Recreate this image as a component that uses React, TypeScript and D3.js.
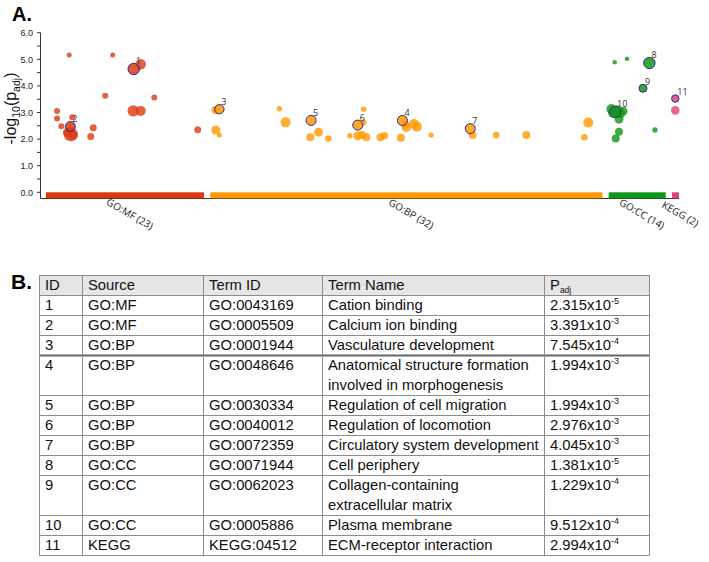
import React from "react";
import * as d3 from "d3";

// ---------- data ----------
const sources = ["GO:MF", "GO:BP", "GO:CC", "KEGG"];
const sourceCounts = [23, 32, 14, 2];
const sourceColors = ["#dc3912", "#ff9900", "#109618", "#dd4477"];
const sourceSpan = [158, 392, 57, 7]; // relative term-space size of each source

// [position within source (0-1), -log10(p_adj), term size]
const mfPoints: [number, number, number][] = [
  [0.147, 5.16, 625], [0.422, 5.16, 625], [0.599, 4.81, 2800],
  [0.375, 3.63, 900], [0.685, 3.56, 900], [0.552, 3.06, 3249],
  [0.599, 3.06, 2500], [0.07, 3.06, 900], [0.07, 2.77, 900],
  [0.166, 2.82, 900], [0.097, 2.48, 900], [0.139, 2.25, 2500],
  [0.17, 2.15, 2500], [0.156, 2.18, 4900], [0.299, 2.43, 1225],
  [0.283, 2.1, 1225], [0.96, 2.35, 1225],
];
const bpPoints: [number, number, number][] = [
  [0.013, 3.09, 1600], [0.014, 2.34, 2025], [0.023, 2.15, 625],
  [0.176, 3.14, 730], [0.192, 2.63, 2500], [0.255, 2.07, 1600],
  [0.276, 2.26, 2025], [0.301, 2.02, 1090], [0.391, 3.12, 730],
  [0.391, 2.62, 900], [0.356, 2.13, 730], [0.376, 2.12, 2025],
  [0.398, 2.07, 1600], [0.434, 2.07, 1600], [0.444, 2.13, 1370],
  [0.486, 2.05, 1600], [0.519, 2.57, 2500], [0.527, 2.47, 2500],
  [0.5, 2.43, 2025], [0.497, 2.55, 1600], [0.387, 2.15, 1600],
  [0.563, 2.15, 730], [0.669, 2.15, 1600], [0.729, 2.15, 1090],
  [0.806, 2.15, 1600], [0.964, 2.62, 2500], [0.954, 2.07, 1090],
];
const ccPoints: [number, number, number][] = [
  [0.105, 4.89, 530], [0.321, 5.02, 530], [0.047, 3.13, 2500],
  [0.251, 3.05, 2025], [0.158, 3.08, 2500], [0.211, 2.95, 2025],
  [0.07, 2.98, 2025], [0.181, 2.75, 2025], [0.181, 2.28, 1600],
  [0.123, 2.02, 1600], [0.812, 2.34, 730],
];
const keggPoints: [number, number, number][] = [[0.47, 3.08, 1850]];

// highlighted terms: [source index, position within source, term size]
const highlightPos: [number, number, number][] = [
  [0, 0.555, 3249], [0, 0.154, 2500], [1, 0.023, 2200], [1, 0.49, 2500],
  [1, 0.257, 2500], [1, 0.376, 2500], [1, 0.663, 2500], [2, 0.714, 3249],
  [2, 0.602, 1600], [2, 0.111, 3249], [3, 0.47, 1370],
];

// table
const tableIds = ["1", "2", "3", "4", "5", "6", "7", "8", "9", "10", "11"];
const tableSources = ["GO:MF", "GO:MF", "GO:BP", "GO:BP", "GO:BP", "GO:BP", "GO:BP", "GO:CC", "GO:CC", "GO:CC", "KEGG"];
const tableTermIds = ["GO:0043169", "GO:0005509", "GO:0001944", "GO:0048646", "GO:0030334", "GO:0040012", "GO:0072359", "GO:0071944", "GO:0062023", "GO:0005886", "KEGG:04512"];
const tableTermNames = [
  ["Cation binding"], ["Calcium ion binding"], ["Vasculature development"],
  ["Anatomical structure formation", "involved in morphogenesis"],
  ["Regulation of cell migration"], ["Regulation of locomotion"],
  ["Circulatory system development"], ["Cell periphery"],
  ["Collagen-containing", "extracellular matrix"], ["Plasma membrane"],
  ["ECM-receptor interaction"],
];
const padjMantissa = [2.315, 3.391, 7.545, 1.994, 1.994, 2.976, 4.045, 1.381, 1.229, 9.512, 2.994];
const padjExponent = [-5, -3, -4, -3, -3, -3, -3, -5, -4, -4, -4];
const yTicks = [0, 1, 2, 3, 4, 5, 6];

// ---------- layout ----------
const W = 709, H = 562;
const plotLeft = 46, plotRight = 679;
const yBase = 192.3, yTop = 32.7;
const axisX = 40.5;

export default function App() {
  const gap = 6.3;
  const offsets: number[] = [];
  let acc = 0;
  sourceSpan.forEach((s, i) => { offsets.push(acc); acc += s + (i < sourceSpan.length - 1 ? gap : 0); });
  const x = d3.scaleLinear().domain([0, acc]).range([plotLeft, plotRight]);
  const y = d3.scaleLinear().domain([0, 6]).range([yBase, yTop]);
  const r = d3.scaleSqrt().domain([0, 5000]).range([0, 7.07]);
  const px = (si: number, f: number) => x(offsets[si] + f * sourceSpan[si]);

  const allPts = [mfPoints, bpPoints, ccPoints, keggPoints].flatMap((arr, si) =>
    arr.map(([f, v, s]) => ({ si, cx: px(si, f), cy: y(v), rr: r(s) })));
  const hl = highlightPos.map(([si, f, s], i) => {
    const v = -Math.log10(padjMantissa[i] * Math.pow(10, padjExponent[i]));
    return { si, id: tableIds[i], cx: px(si, f), cy: y(v), rr: r(s) };
  });

  const minorTicks = d3.range(0, 6.01, 0.5);

  // table layout
  const colX = [39, 82, 203, 322, 544, 649];
  const tTop = 275, rowH = 20;
  const rowTops: number[] = [];
  let rt = tTop + rowH;
  tableIds.forEach((_, i) => { rowTops.push(rt); rt += rowH * tableTermNames[i].length; });
  const tBottom = rt;
  const tf = "'Liberation Sans', Arial, sans-serif";
  const fs = 14.8;
  const headers = ["ID", "Source", "Term ID", "Term Name"];

  return (
    <div style={{ position: "absolute", left: 0, top: 0, width: W, height: H, background: "#fff" }}>
      <svg width={W} height={H} style={{ display: "block" }}>
        <text x={12} y={21} fontFamily={tf} fontWeight="bold" fontSize={20} fill="#000">A.</text>
        {/* y axis */}
        <line x1={axisX} x2={axisX} y1={yTop} y2={198.5} stroke="#333" strokeWidth={1} />
        {minorTicks.map((t) => (
          <line key={t} x1={axisX - 3.5} x2={axisX} y1={y(t)} y2={y(t)} stroke="#333" strokeWidth={1} />
        ))}
        {yTicks.map((t) => (
          <text key={t} x={33} y={y(t) + 3.2} textAnchor="end" fontFamily={tf} fontSize={9} fill="#222">
            {d3.format(".1f")(t)}
          </text>
        ))}
        <text transform={`translate(16,${(yTop + yBase) / 2 - 4}) rotate(-90)`} textAnchor="middle"
          fontFamily={tf} fontSize={16} fill="#111">
          -log<tspan fontSize={10.5} dy={4}>10</tspan><tspan dy={-4}>(p</tspan>
          <tspan fontSize={10.5} dy={4}>adj</tspan><tspan dy={-4}>)</tspan>
        </text>
        {/* baseline + source bars */}
        <line x1={axisX} x2={plotRight} y1={198.5} y2={198.5} stroke="#333" strokeWidth={1} />
        {sources.map((s, i) => (
          <rect key={s} x={x(offsets[i])} width={x(offsets[i] + sourceSpan[i]) - x(offsets[i])}
            y={yBase} height={6} fill={sourceColors[i]} />
        ))}
        {sources.map((s, i) => {
          const cx = x(offsets[i] + sourceSpan[i] / 2);
          return (
            <text key={s} transform={`translate(${cx + 3},${217}) rotate(30)`} textAnchor="middle"
              fontFamily="'Open Sans', sans-serif" fontSize={10} fill="#222">
              {`${s} (${sourceCounts[i]})`}
            </text>
          );
        })}
        {/* points */}
        {allPts.map((p, i) => (
          <circle key={i} cx={p.cx} cy={p.cy} r={p.rr} fill={sourceColors[p.si]} fillOpacity={0.8} />
        ))}
        {hl.map((p) => (
          <circle key={p.id} cx={p.cx} cy={p.cy} r={p.rr} fill={sourceColors[p.si]} fillOpacity={0.85}
            stroke="#2a2a9a" strokeWidth={1} />
        ))}
        {hl.map((p) => (
          <text key={`l${p.id}`} x={p.cx + 2} y={p.cy - p.rr + 0.5} fontFamily="'Open Sans', sans-serif"
            fontSize={9} fill="#333">
            {p.id}
          </text>
        ))}

        {/* table */}
        <text x={11} y={289} fontFamily={tf} fontWeight="bold" fontSize={21} fill="#000">B.</text>
        <rect x={colX[0]} y={tTop} width={colX[5] - colX[0]} height={rowH} fill="#e6e6e6" />
        {headers.map((h, c) => (
          <text key={h} x={colX[c] + 6} y={tTop + 15} fontFamily={tf} fontSize={fs} fill="#111">{h}</text>
        ))}
        <text x={colX[4] + 6} y={tTop + 15} fontFamily={tf} fontSize={fs} fill="#111">
          P<tspan fontSize={8.5} dy={3}>adj</tspan>
        </text>
        {tableIds.map((id, i) => {
          const top = rowTops[i];
          const bl = top + 15;
          return (
            <g key={id} fontFamily={tf} fontSize={fs} fill="#111">
              <text x={colX[0] + 6} y={bl}>{id}</text>
              <text x={colX[1] + 6} y={bl}>{tableSources[i]}</text>
              <text x={colX[2] + 6} y={bl}>{tableTermIds[i]}</text>
              {tableTermNames[i].map((ln, k) => (
                <text key={k} x={colX[3] + 6} y={bl + k * rowH}>{ln}</text>
              ))}
              <text x={colX[4] + 6} y={bl}>
                {`${padjMantissa[i].toFixed(3)}x10`}
                <tspan fontSize={9} dy={-6}>{padjExponent[i]}</tspan>
              </text>
            </g>
          );
        })}
        {/* table grid */}
        {[tTop, ...rowTops, tBottom].map((yy, i) => (
          <line key={`h${i}`} x1={colX[0]} x2={colX[5]} y1={yy + 0.5} y2={yy + 0.5}
            stroke={i === 4 ? "#666" : "#8c8c8c"} strokeWidth={i === 4 ? 2 : 1} />
        ))}
        {colX.map((cx, i) => (
          <line key={`v${i}`} x1={cx + 0.5} x2={cx + 0.5} y1={tTop} y2={tBottom + 0.5} stroke="#8c8c8c" strokeWidth={1} />
        ))}
      </svg>
    </div>
  );
}
